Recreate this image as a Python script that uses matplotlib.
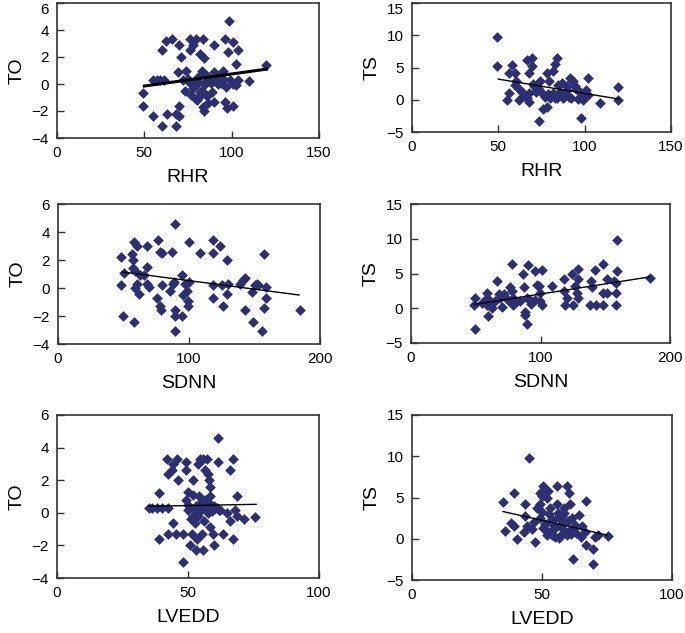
import numpy as np
import matplotlib
matplotlib.use('Agg')
import matplotlib.pyplot as plt

plt.rcParams['font.family'] = ['Liberation Sans', 'DejaVu Sans']

# ---- data ----
rhr_a = [49.5, 49.5, 54.8, 60, 68.2, 63, 68.2, 70, 70, 55,
         57, 59, 61, 60, 62.5, 65.7, 70, 71, 69, 73,
         74, 75, 76, 76, 78, 79.7, 83.5, 81.6, 84, 83,
         79.7, 79.7, 81.6, 83.5, 84, 86.4, 89, 90, 90, 90,
         93, 95.3, 96, 98, 98.4, 96.4, 97.4, 100.7, 100.7, 102.6,
         103.6, 103.6, 102.6, 110, 119.8, 72, 76, 78, 80, 82,
         85, 87, 88, 91, 92, 94, 97, 99, 101, 77,
         80, 83, 86, 88, 81, 84, 86, 92, 95]
to_a = [-0.7, -1.6, -2.4, -3.1, -3.1, -2.2, -2.2, -2.4, -1.6, 0.3,
        0.3, 0.3, 0.3, 2.5, 3.2, 3.3, 2.9, 2.0, 0.9, -0.5,
        1.0, 0.4, 3.3, 2.5, 2.9, 3.3, 3.3, 2.2, 1.9, 1.0,
        -0.1, -1.1, -0.9, -1.7, -2.0, -1.4, -0.6, -1.3, 2.9, 0.9,
        0.3, 1.0, 3.3, 2.4, 4.7, -1.3, -1.8, -1.6, 3.1, 1.5,
        2.5, 0.3, -0.1, 0.2, 1.4, 0.3, 0.1, -0.3, 0.2, -0.6,
        0.0, 0.4, 0.1, 0.2, 0.6, 0.1, -0.2, 0.3, 0.0, -0.8,
        -1.2, -0.5, -0.9, 0.3, 0.5, 0.1, 0.6, 0.0, 0.4]

rhr_b = [49.5, 49.5, 57.8, 55.9, 59.7, 60.3, 59.7, 55, 56, 61.7,
         63.6, 66.5, 67.5, 66.5, 69.4, 69.4, 67.5, 70.4, 71.9, 74.2,
         73.8, 76, 78, 78, 79.5, 81.9, 82.9, 83.8, 80, 81.9,
         84.8, 86.8, 87.7, 89.6, 91.6, 93.5, 94.5, 97.4, 97.8, 102,
         101, 102, 99, 109, 119.5, 119.5, 64, 68, 72, 75,
         77, 83, 85, 88, 90, 92, 95, 98, 100, 73,
         79, 84, 86, 91, 96, 70, 62]
ts_b = [9.7, 5.3, 5.4, 4.1, 4.1, 2.9, 2.3, 0.0, 1.0, 0.0,
        1.2, 0.2, -0.4, 6.1, 6.4, 5.3, 4.1, 2.1, 1.2, 2.9,
        -3.3, -1.5, -1.2, 4.1, 2.9, 4.5, 5.6, 6.4, 0.2, 1.0,
        2.3, 2.6, 0.2, 1.5, 3.4, 2.9, 2.1, 1.2, -2.8, 3.4,
        1.5, 0.7, -0.1, -0.5, 1.9, 0.0, 0.6, 1.0, 1.4, 1.0,
        0.4, 0.3, 0.8, 0.5, 2.2, 0.3, 1.6, 0.4, 0.9, 1.8,
        0.9, 0.2, 1.2, 0.5, 0.1, 2.4, 1.6]

sdnn_c = [48, 48, 49.5, 50.6, 57.7, 56.4, 57.7, 60.3, 57.2, 57.2,
          59, 60.3, 59, 61.5, 62.8, 65.8, 67.9, 67.9, 67.9, 69.2,
          76.6, 77.5, 79.3, 75.5, 78, 78.8, 79.3, 87, 85.7, 87.6,
          88.6, 89.5, 89.5, 89.5, 89.5, 94.6, 94.6, 95.3, 97.2, 98.5,
          99.2, 99.2, 99.7, 99.7, 108.6, 118.7, 118.7, 118.7, 118.7, 123.8,
          125, 125.8, 129, 129, 130.1, 139, 141.5, 142.8, 142.8, 147.9,
          149, 150.4, 151.7, 153, 155.5, 157.5, 157.5, 158.6, 158.6, 184.7]
to_c = [2.2, 0.2, -2.0, 1.05, -2.4, 2.4, 3.3, 3.0, 2.0, 1.4,
        1.2, 0.3, 0.0, -0.4, 0.9, 0.9, 1.5, 3.0, 0.3, 0.1,
        3.4, 2.6, 2.5, -0.7, -1.3, -1.6, 0.2, 2.6, -0.2, 0.3,
        0.4, 4.6, -1.6, -2.0, -3.1, -2.0, 0.9, -0.5, 0.3, -0.2,
        -0.9, -1.3, 0.4, 3.3, 2.5, 3.4, 2.5, -0.7, 0.2, 3.0,
        0.2, -1.3, 2.0, -0.4, 0.3, 0.3, 0.6, 0.7, -1.6, -0.3,
        -2.4, 0.2, 0.3, 0.2, -3.1, 2.4, -1.4, -0.7, 0.1, -1.6]

sdnn_d = [48.6, 49.4, 49.4, 58.4, 58.4, 58.4, 59.7, 61, 62.3, 66.2,
          68.2, 68.7, 70, 75, 76.4, 77.7, 77.7, 79, 79, 86.7,
          87.5, 88, 88, 90, 89.3, 89.3, 91.9, 95.8, 97, 99,
          99.6, 99.6, 100.9, 100.9, 108.6, 118, 118, 119, 120.2, 124.6,
          124.8, 126.6, 128, 129.2, 129.2, 128.7, 138, 138.8, 139.5, 142,
          142.9, 148, 148.5, 148, 151, 151, 157, 158.3, 158.3, 158.3,
          158.8, 158.8, 184.6, 55, 65, 72, 80, 84, 93, 96]
ts_d = [0.5, 1.5, -3.0, 2.2, 1.5, 0.5, -1.1, 1.0, 0.0, 3.9,
        2.1, 1.5, 0.2, 1.2, 3.0, 6.4, 2.5, 0.5, 1.5, 4.9,
        3.0, -1.0, -0.5, 6.2, -2.2, 1.5, 1.2, 5.4, 3.4, 3.2,
        2.2, 1.0, 5.5, 0.5, 3.2, 4.2, 2.5, 0.5, 1.5, 5.0,
        0.5, 3.2, 2.2, 5.7, 4.2, 1.5, 0.5, 3.9, 3.0, 5.5,
        0.5, 2.2, 6.4, 0.5, 4.2, 2.2, 3.9, 2.2, 3.7, 0.5,
        5.3, 9.8, 4.4, 0.8, 1.0, 2.0, 0.8, 1.0, 0.6, 1.2]

lvedd_e = [35, 36.2, 38, 39, 39, 40, 42.5, 42, 42.5, 43.8,
           44.4, 45.7, 42.3, 44.4, 45.5, 46.3, 48.2, 48, 49.2, 49.4,
           49.4, 49.9, 50.1, 50.8, 51.4, 51.8, 52, 52, 52.7, 53,
           53.3, 53.9, 54.3, 54.6, 55, 55.2, 55.8, 55.8, 56.5, 56.5,
           57.1, 57.7, 58.1, 58.4, 58.4, 58.4, 59.6, 60, 60.3, 61.5,
           61.5, 62.2, 63.5, 64.7, 66, 66, 67, 67.3, 67.9, 68.8,
           68.8, 71.3, 75.5, 50, 52.5, 53.5, 54.5, 56, 57, 58,
           59, 60, 61, 62, 51, 54, 55.5, 57.5, 53, 56]
to_e = [0.3, 0.3, 0.3, 1.2, -1.6, 0.3, 0.3, 3.3, 2.4, 2.6,
        3.0, 3.3, -1.3, -0.6, -1.3, 2.0, -1.3, -3.0, 3.1, 2.6,
        0.8, 1.3, 0.2, -2.0, -1.3, 2.0, -0.2, 1.1, -0.6, -2.3,
        -1.6, 3.0, 1.0, 3.3, 0.2, -1.3, -2.3, 3.3, 2.6, 0.8,
        3.3, 2.4, 2.0, 1.6, -0.9, 1.0, -1.3, -2.0, 0.3, 4.6,
        3.1, 0.2, -1.3, 0.0, -0.5, 2.6, -1.6, 3.3, 0.2, 1.0,
        -0.2, -0.4, -0.25, 0.5, 0.3, 0.1, 0.5, 0.4, 0.2, 0.6,
        0.1, 0.4, 0.3, 0.2, -0.4, -0.2, 0.7, 0.0, 0.4, -0.5]

lvedd_f = [35.1, 35.7, 37.9, 39.2, 39.4, 40.4, 43.4, 43.6, 43, 44.3,
           44.9, 47.4, 48, 49.3, 49.3, 49.9, 50.5, 51.1, 51.8, 52.4,
           49.3, 50.5, 51.8, 53.2, 54.4, 55.7, 55.7, 56.3, 57, 55,
           57.6, 58.3, 59.5, 60.2, 60.8, 59.5, 61.5, 61.9, 62.8, 64.4,
           65.3, 66.6, 67, 67, 69.8, 69.8, 70.4, 71.7, 75.5, 50,
           51, 52, 53, 54, 55, 56, 57, 58, 59, 60,
           61, 62, 52.5, 54.5, 56.5, 58.5, 60.5, 63, 65, 47,
           46, 53.5, 57.5]
ts_f = [4.4, 1.0, 1.9, 1.5, 5.6, 0.0, 4.2, 2.7, 0.8, 1.5,
        9.8, -0.4, 3.7, 4.2, 5.6, 5.2, 6.4, 6.0, 5.0, 5.8,
        2.5, 1.25, 0.4, 3.7, 2.3, 6.4, 4.2, 3.1, 1.5, 0.2,
        2.7, 3.7, 6.4, 5.6, 4.2, 0.4, 2.5, -2.5, 1.7, 2.9,
        1.5, 0.8, 4.6, -0.8, -1.25, -3.0, 0.2, 0.4, 0.3, 3.2,
        1.8, 0.9, 2.2, 0.5, 1.3, 2.6, 0.3, 1.9, 1.0, 2.2,
        0.6, 1.2, 3.0, 1.6, 0.1, 3.1, 1.0, 0.7, 0.2, 2.0,
        1.2, 0.8, 2.1]

# linear trend lines as shown in the figure (x range, fitted y at the ends)
trend_a = ([50, 120], [-0.15, 1.1])
trend_b = ([50, 120], [3.2, 0.1])
trend_c = ([49, 184], [1.15, -0.5])
trend_d = ([49, 184], [0.55, 4.5])
trend_e = ([35, 76], [0.4, 0.52])
trend_f = ([35, 75], [3.3, 0.45])

panels = [
    (rhr_a, to_a, trend_a, 'RHR', 'TO', (0, 150), (-4, 6), [0, 50, 100, 150], [-4, -2, 0, 2, 4, 6], 2.2, (57, 3, 319, 138)),
    (rhr_b, ts_b, trend_b, 'RHR', 'TS', (0, 150), (-5, 15), [0, 50, 100, 150], [-5, 0, 5, 10, 15], 1.0, (412, 3, 671, 132)),
    (sdnn_c, to_c, trend_c, 'SDNN', 'TO', (0, 200), (-4, 6), [0, 100, 200], [-4, -2, 0, 2, 4, 6], 1.0, (58, 204, 320, 344)),
    (sdnn_d, ts_d, trend_d, 'SDNN', 'TS', (0, 200), (-5, 15), [0, 100, 200], [-5, 0, 5, 10, 15], 1.0, (411, 204, 670, 343)),
    (lvedd_e, to_e, trend_e, 'LVEDD', 'TO', (0, 100), (-4, 6), [0, 50, 100], [-4, -2, 0, 2, 4, 6], 1.0, (57, 415, 319, 578)),
    (lvedd_f, ts_f, trend_f, 'LVEDD', 'TS', (0, 100), (-5, 15), [0, 50, 100], [-5, 0, 5, 10, 15], 1.0, (412, 415, 672, 580)),
]

W, H = 685, 633
fig = plt.figure(figsize=(W / 100, H / 100), dpi=100)
navy = '#2c2f72'

for i, (xs, ys, tr, xl, yl, xlim, ylim, xt, yt, lw, box) in enumerate(panels):
    x0, y0, x1, y1 = box
    ax = fig.add_axes([x0 / W, 1 - y1 / H, (x1 - x0) / W, (y1 - y0) / H])
    ax.scatter(xs, ys, marker='D', s=30, color=navy, linewidths=0, zorder=2)
    ax.plot(tr[0], tr[1], color='black', lw=lw, zorder=3)
    ax.set_xlim(*xlim)
    ax.set_ylim(*ylim)
    ax.set_xticks(xt)
    ax.set_yticks(yt)
    ax.tick_params(direction='in', length=5, width=1, labelsize=11, pad=6, colors='#333333')
    ax.tick_params(labelcolor='black')
    for s in ax.spines.values():
        s.set_color('#333333')
        s.set_linewidth(1.2)
    ax.set_xlabel(xl, fontsize=14, labelpad=6)
    ax.set_ylabel(yl, fontsize=14, labelpad=4)
    if i < 2:
        # top row: keep the highest y label inside the figure
        ax.get_yticklabels()[-1].set_verticalalignment('top')

fig.savefig('out.png', dpi=100)
